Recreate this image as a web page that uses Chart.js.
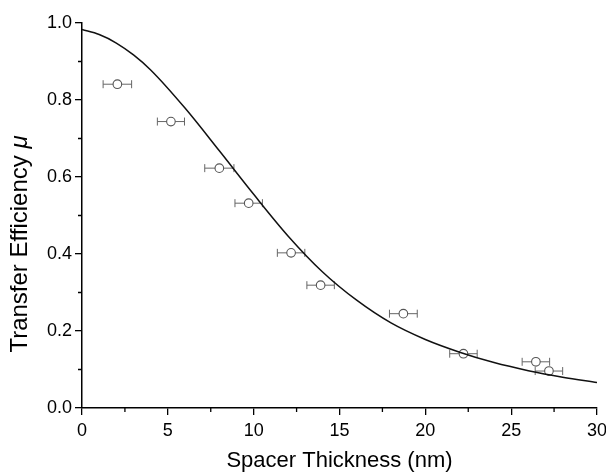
<!DOCTYPE html>
<html>
<head>
<meta charset="utf-8">
<script src="https://cdn.jsdelivr.net/npm/chart.js@4.4.0/dist/chart.umd.min.js"></script>
<style>
  html, body { margin: 0; padding: 0; background: #fff; }
</style>
</head>
<body>
<canvas id="transfer-chart" width="606" height="472"></canvas>
<script>
// measured points
const thickness = [2.06, 5.18, 8.0, 9.71, 12.18, 13.9, 18.72, 22.22, 26.44, 27.2];
const efficiency = [0.841, 0.744, 0.623, 0.532, 0.403, 0.319, 0.245, 0.141, 0.120, 0.096];
const thickness_err = [0.83, 0.79, 0.85, 0.8, 0.8, 0.8, 0.81, 0.8, 0.8, 0.8];

// fitted curve
const fit_x = [0, 1, 2, 3, 4, 6, 8, 10, 12, 14, 16, 18, 20, 22, 24, 26, 28, 30];
const fit_y = [0.983, 0.97, 0.948, 0.917, 0.878, 0.779, 0.668, 0.555, 0.447, 0.354, 0.28, 0.221, 0.178, 0.145, 0.118, 0.097, 0.08, 0.066];

const x_minor = [2.5, 7.5, 12.5, 17.5, 22.5, 27.5];
const y_minor = [0.1, 0.3, 0.5, 0.7, 0.9];

const font_family = '"Liberation Sans", Arial, Helvetica, sans-serif';

let points = [];
for (let i = 0; i < thickness.length; ++i) {
  points.push({x: thickness[i], y: efficiency[i]});
}
let curve = [];
for (let i = 0; i < fit_x.length; ++i) {
  curve.push({x: fit_x[i], y: fit_y[i]});
}

const extras = {
  id: 'extras',
  beforeDatasetsDraw(chart) {
    const ctx = chart.ctx;
    const xs = chart.scales.x, ys = chart.scales.y;
    ctx.save();
    ctx.strokeStyle = '#666';
    ctx.lineWidth = 1;
    for (let i = 0; i < thickness.length; ++i) {
      const x0 = xs.getPixelForValue(thickness[i] - thickness_err[i]);
      const x1 = xs.getPixelForValue(thickness[i] + thickness_err[i]);
      const y = ys.getPixelForValue(efficiency[i]);
      ctx.beginPath();
      ctx.moveTo(x0, y); ctx.lineTo(x1, y);
      ctx.moveTo(x0, y - 4); ctx.lineTo(x0, y + 4);
      ctx.moveTo(x1, y - 4); ctx.lineTo(x1, y + 4);
      ctx.stroke();
    }
    ctx.restore();
  },
  afterDraw(chart) {
    const ctx = chart.ctx;
    const xs = chart.scales.x, ys = chart.scales.y;
    const area = chart.chartArea;
    ctx.save();
    ctx.strokeStyle = '#000';
    ctx.lineWidth = 1.3;
    ctx.beginPath();
    x_minor.forEach(v => {
      const px = xs.getPixelForValue(v);
      ctx.moveTo(px, area.bottom); ctx.lineTo(px, area.bottom + 4);
    });
    y_minor.forEach(v => {
      const py = ys.getPixelForValue(v);
      ctx.moveTo(area.left, py); ctx.lineTo(area.left - 4, py);
    });
    ctx.stroke();

    // y title with italic mu
    const main = 'Transfer Efficiency ';
    const sym = '\u03bc';
    ctx.fillStyle = '#000';
    ctx.textBaseline = 'middle';
    ctx.translate(20, 244);
    ctx.rotate(-Math.PI / 2);
    ctx.font = '24px ' + font_family;
    const w1 = ctx.measureText(main).width;
    ctx.font = 'italic 24px ' + font_family;
    const w2 = ctx.measureText(sym).width;
    let start = -(w1 + w2) / 2;
    ctx.textAlign = 'left';
    ctx.font = '24px ' + font_family;
    ctx.fillText(main, start, 0);
    ctx.font = 'italic 24px ' + font_family;
    ctx.fillText(sym, start + w1, 0);
    ctx.restore();
  },
};

const ctx_transfer = document.getElementById('transfer-chart');
const transferChart = new Chart(ctx_transfer, {
  type: 'scatter',
  data: {
    datasets: [
      {
        type: 'line',
        data: curve,
        borderColor: '#111',
        borderWidth: 1.5,
        pointRadius: 0,
        cubicInterpolationMode: 'monotone',
        fill: false,
        order: 0,
      },
      {
        data: points,
        pointRadius: 4.3,
        pointBorderWidth: 1.1,
        borderColor: '#555',
        backgroundColor: '#fff',
        order: 1,
      },
    ],
  },
  options: {
    responsive: false,
    animation: false,
    events: [],
    layout: {
      padding: {left: 0, top: 23, right: 9, bottom: 0},
    },
    plugins: {
      legend: {display: false},
      tooltip: {enabled: false},
    },
    scales: {
      x: {
        type: 'linear',
        min: 0,
        max: 30,
        ticks: {
          stepSize: 5,
          color: '#000',
          padding: 5,
          maxRotation: 0,
          font: {size: 18, family: font_family},
        },
        grid: {
          drawOnChartArea: false,
          tickLength: 7,
          color: '#000',
          lineWidth: 1.3,
        },
        border: {color: '#000', width: 1.5},
        title: {
          display: true,
          text: 'Spacer Thickness (nm)',
          color: '#000',
          font: {size: 22, family: font_family},
          padding: {top: 0, bottom: -2},
        },
        afterFit(scale) {
          scale.height = 64;
          scale.paddingLeft = 0;
          scale.paddingRight = 0;
        },
      },
      y: {
        min: 0,
        max: 1.0,
        ticks: {
          stepSize: 0.2,
          color: '#000',
          padding: 3,
          font: {size: 18, family: font_family},
          callback: v => v.toFixed(1),
        },
        grid: {
          drawOnChartArea: false,
          tickLength: 7,
          color: '#000',
          lineWidth: 1.3,
        },
        border: {color: '#000', width: 1.5},
        afterFit(scale) {
          scale.width = 82;
          scale.paddingTop = 0;
          scale.paddingBottom = 0;
        },
      },
    },
  },
  plugins: [extras],
});
</script>
</body>
</html>
